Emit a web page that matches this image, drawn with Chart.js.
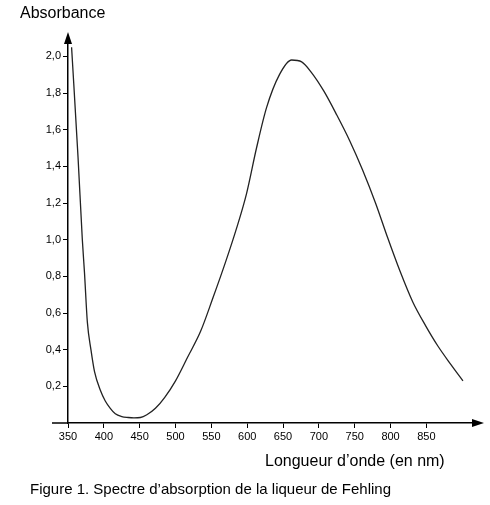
<!DOCTYPE html>
<html><head><meta charset="utf-8">
<script src="https://cdn.jsdelivr.net/npm/chart.js@4/dist/chart.umd.min.js"></script>
<style>
body{margin:0;background:#fff;font-family:"Liberation Sans",Arial,sans-serif;}
#wrap{position:relative;width:490px;height:505px;}
.t{position:absolute;color:#000;white-space:nowrap;}
</style></head><body>
<div id="wrap">
<canvas id="c" width="490" height="505"></canvas>
<div class="t" style="left:20px;top:4px;font-size:16px;">Absorbance</div>
<div class="t" style="left:265px;top:452px;font-size:16px;">Longueur d’onde (en nm)</div>
<div class="t" style="left:30px;top:480px;font-size:15px;">Figure 1. Spectre d’absorption de la liqueur de Fehling</div>
</div>
<script>
const wavelengths = [355,364,370,373,377,382,387,395,402,409,416,425,434,442,451,460,472,485,500,517,535,552,570,585,599,613,627,645,662,676,690,707,725,743,761,779,796,813,831,849,866,884,901];
const absorbance = [2.05,1.45,1.0,0.82,0.55,0.40,0.28,0.18,0.12,0.08,0.05,0.035,0.03,0.028,0.03,0.045,0.08,0.14,0.23,0.36,0.5,0.68,0.88,1.06,1.25,1.5,1.72,1.9,1.98,1.97,1.91,1.81,1.68,1.54,1.38,1.2,1.01,0.83,0.66,0.53,0.42,0.32,0.23];
const xTicks = [350,400,450,500,550,600,650,700,750,800,850];
const yTicks = [0.2,0.4,0.6,0.8,1.0,1.2,1.4,1.6,1.8,2.0];

const arrows = {
  id: 'arrows',
  afterDraw(chart) {
    const ctx = chart.ctx, a = chart.chartArea;
    ctx.save();
    ctx.fillStyle = '#000';
    ctx.strokeStyle = '#000';
    ctx.lineWidth = 1.5;
    ctx.beginPath();
    ctx.moveTo(a.left - 16, a.bottom); ctx.lineTo(a.left, a.bottom);
    ctx.stroke();
    ctx.beginPath();
    ctx.moveTo(a.left, a.top - 6); ctx.lineTo(a.left - 4, a.top + 6); ctx.lineTo(a.left + 4, a.top + 6);
    ctx.fill();
    ctx.beginPath();
    ctx.moveTo(a.right + 6, a.bottom); ctx.lineTo(a.right - 6, a.bottom - 4); ctx.lineTo(a.right - 6, a.bottom + 4);
    ctx.fill();
    ctx.restore();
  }
};

new Chart(document.getElementById('c'), {
  type: 'line',
  data: {
    datasets: [{
      data: wavelengths.map((w, i) => ({x: w, y: absorbance[i]})),
      borderColor: '#222', borderWidth: 1.3, pointRadius: 0,
      cubicInterpolationMode: 'monotone', fill: false
    }]
  },
  options: {
    responsive: false, animation: false,
    layout: {padding: {top: 38, right: 12, left: 0, bottom: 0}},
    plugins: {legend: {display: false}, tooltip: {enabled: false}},
    scales: {
      x: {
        type: 'linear', min: 350, max: 922,
        afterFit: s => { s.height = 82; },
        afterBuildTicks: s => { s.ticks = xTicks.map(v => ({value: v})); },
        border: {color: '#000', width: 1.5},
        grid: {drawOnChartArea: false, tickLength: 5, color: '#000'},
        ticks: {color: '#000', font: {family: 'Liberation Sans', size: 11}, maxRotation: 0, padding: 2}
      },
      y: {
        min: 0, max: 2.1,
        afterFit: s => { s.width = 68; },
        afterBuildTicks: s => { s.ticks = yTicks.map(v => ({value: v})); },
        border: {color: '#000', width: 1.5},
        grid: {drawOnChartArea: false, tickLength: 5, color: '#000'},
        ticks: {color: '#000', font: {family: 'Liberation Sans', size: 11}, padding: 2,
          callback: v => v.toFixed(1).replace('.', ',')}
      }
    }
  },
  plugins: [arrows]
});
</script>
</body></html>
